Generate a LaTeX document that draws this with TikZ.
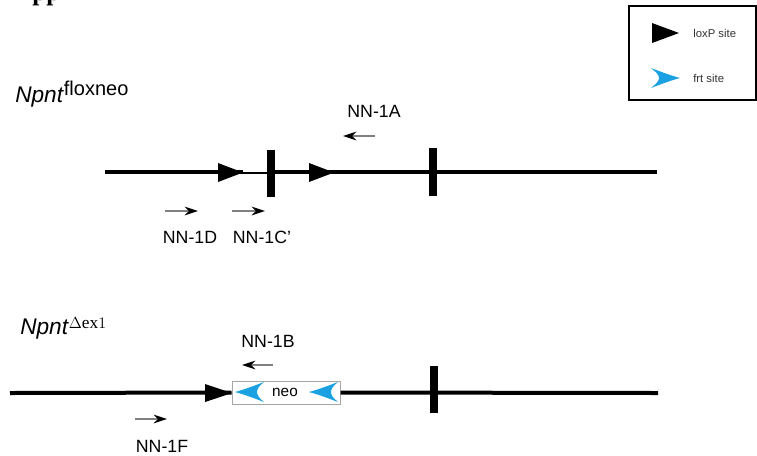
\documentclass[tikz,border=0pt]{standalone}
\usepackage{fontspec}
\setmainfont{Liberation Serif}
\setsansfont{Liberation Sans}
\renewcommand{\familydefault}{\sfdefault}
\usetikzlibrary{arrows.meta}
\definecolor{frtblue}{RGB}{27,161,226}

\begin{document}
\begin{tikzpicture}
  [x=0.75pt,y=-0.75pt,
   every node/.style={inner sep=0pt,font=\fontsize{13.3}{16}\selectfont},
   gene/.style={line width=3pt},
   exon/.style={line width=6pt},
   primer/.style={draw=gray,line width=0.8pt,
                  -{Stealth[black,length=10pt,width=6.5pt]}}]

  \tikzstyle{loxp} = [fill=black]
  \tikzstyle{frt}  = [fill=frtblue]
  \tikzstyle{key}  = [anchor=west,text=black!80,font=\fontsize{8.5}{10}\selectfont]

  \useasboundingbox (0,0) rectangle (757,455);

  \node[anchor=base west,font=\rmfamily\bfseries\fontsize{19}{22}\selectfont]
        (head) at (32,0) {pp};

  % legend
  \draw[line width=1pt] (629,6) rectangle (756,100);
  \fill[loxp] (652,23) -- (679,33) -- (652,43) -- cycle;
  \fill[frt]  (680,78) .. controls (669,75) and (659,71) .. (651,68)
              .. controls (656,72) and (659,75) .. (659,78)
              .. controls (659,81) and (656,84) .. (651,88)
              .. controls (659,85) and (669,81) .. (680,78) -- cycle;
  \node[key] (kl) at (693,33) {loxP site};
  \node[key] (kf) at (693,78) {frt site};

  % floxed allele
  \node[anchor=base west] (top) at (15,102)
        {\fontsize{17}{20}\selectfont\textit{Npnt}\raisebox{5.25pt}{\fontsize{15}{18}\selectfont floxneo}};

  \coordinate (t0) at (105,172);
  \coordinate (t1) at (243,172);
  \coordinate (t2) at (243,173);
  \coordinate (t3) at (270,173);
  \coordinate (t4) at (268,172);
  \coordinate (t5) at (657,172);
  \coordinate (e1) at (271,173.5);
  \coordinate (e2) at (433,172);

  \draw[gene] (t0) -- (t1);
  \draw[line width=1.8pt] (t2) -- (t3);
  \draw[gene] (t4) -- (t5);
  \draw[exon] (e1) ++(0,-23.5) -- ++(0,47);
  \draw[exon] (e2) ++(0,-24) -- ++(0,48);
  \fill[loxp] (218,163) -- (243,172.5) -- (218,182) -- cycle;
  \fill[loxp] (309,163) -- (334,172.5) -- (309,182) -- cycle;

  \node (1A)  at (374,111) {NN-1A};
  \node (1D)  at (190,237) {NN-1D};
  \node (1C)  at (262,237) {NN-1C'};

  \coordinate (a0) at (375,136);  \coordinate (a1) at (343,136);
  \coordinate (d0) at (165,211);  \coordinate (d1) at (198,211);
  \coordinate (c0) at (232,211);  \coordinate (c1) at (265,211);

  \path (a0) edge[primer] (a1)
        (d0) edge[primer] (d1)
        (c0) edge[primer] (c1);

  % deleted allele
  \node[anchor=base west] (bot) at (20,334)
        {\fontsize{17}{20}\selectfont\textit{Npnt}\raisebox{4.5pt}{\fontsize{13}{16}\selectfont$\Delta\mathrm{ex}1$}};

  \node[draw=gray!70,line width=0.75pt,fill=white,minimum width=81pt,minimum height=17.25pt]
        (neo) at (286,392.5) {};
  \coordinate (b0) at (10,393);
  \coordinate (b1) at (658,393);
  \coordinate (e3) at (433.5,389.5);

  \draw[gene] (b0) -- (neo.west);
  \draw[gene] (neo.east) -- (b1);
  \draw[exon] (e3) ++(0,-23.5) -- ++(0,47);
  \fill[loxp] (205,384) -- (232,393) -- (205,402) -- cycle;

  \fill[frt]  (235,392) .. controls (246,389) and (256,385) .. (264,382)
              .. controls (259,386) and (257,389) .. (257,392)
              .. controls (257,395) and (259,398) .. (264,402)
              .. controls (256,399) and (246,395) .. (235,392) -- cycle;
  \fill[frt]  (309,392) .. controls (320,389) and (330,385) .. (338,382)
              .. controls (333,386) and (331,389) .. (331,392)
              .. controls (331,395) and (333,398) .. (338,402)
              .. controls (330,399) and (320,395) .. (309,392) -- cycle;
  \node[font=\fontsize{11.5}{14}\selectfont] (neolab) at (285,392) {neo};

  \node (1B)  at (268,341) {NN-1B};
  \node (1F)  at (162,446) {NN-1F};

  \coordinate (g0) at (273,365);  \coordinate (g1) at (242,365);
  \coordinate (f0) at (135,419);  \coordinate (f1) at (167,419);

  \path (g0) edge[primer] (g1)
        (f0) edge[primer] (f1);
\end{tikzpicture}
\end{document}
